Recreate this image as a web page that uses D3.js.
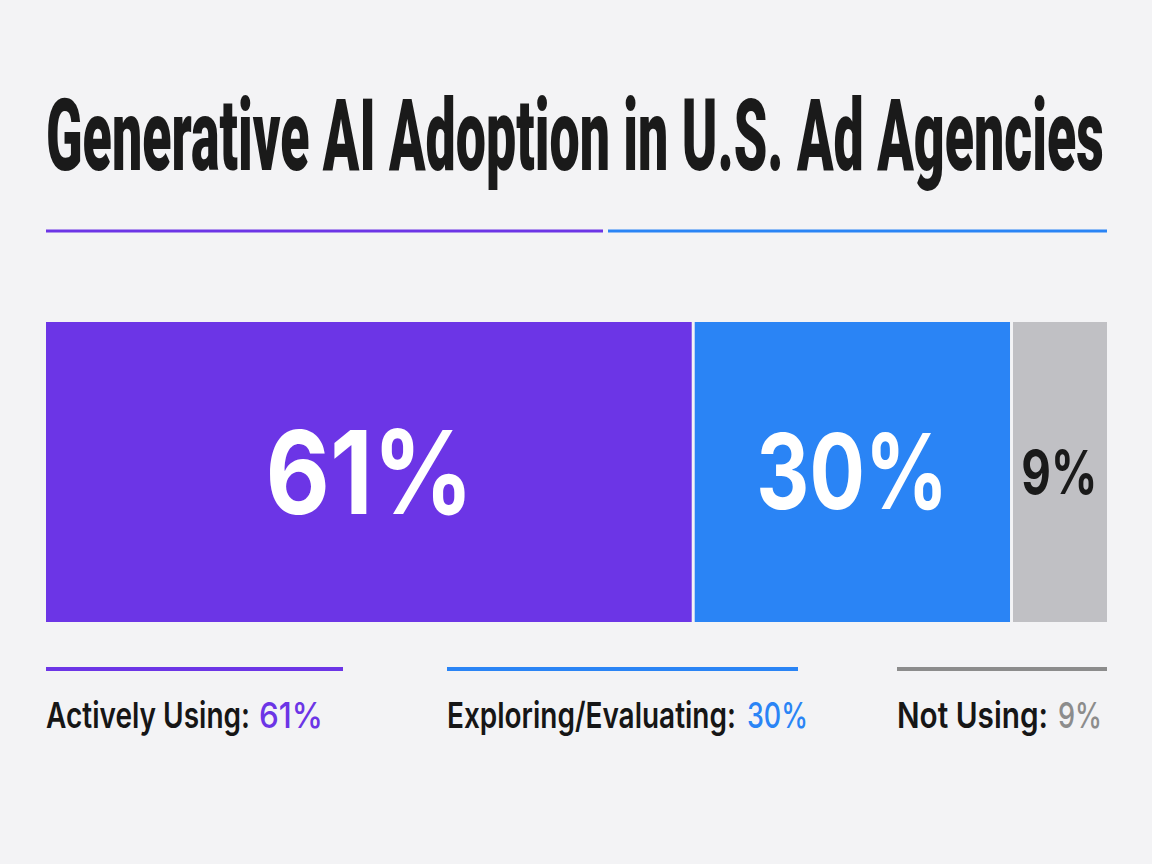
<!DOCTYPE html>
<html>
<head>
<meta charset="utf-8">
<script src="https://cdn.jsdelivr.net/npm/d3@7"></script>
<style>
  body { margin: 0; background: #f3f3f5; }
  svg { display: block; }
</style>
</head>
<body>
<svg id="chart" width="1152" height="864"></svg>
<script>
const categories = ["Actively Using", "Exploring/Evaluating", "Not Using"]
const values = [61, 30, 9]
const colors = ["#6c35e6", "#2a84f5", "#c0c0c4"]
const legendLineColors = ["#6c35e6", "#2a84f5", "#8c8c8c"]
const valueColors = ["#6c35e6", "#2a84f5", "#8c8c8c"]
const labelColors = ["#ffffff", "#ffffff", "#1a1a1a"]

const svg = d3.select('#chart')

svg.append('rect').attr('width', 1152).attr('height', 864).attr('fill', '#f3f3f5')

// squeeze a text horizontally so it spans width w, starting at x (or centred on x)
function fitText(t, x, y, w, centred) {
    let natural = t.node().getComputedTextLength()
    let k = Math.min(1, w / natural)
    let x0 = centred ? x - w / 2 : x
    t.attr('x', 0).attr('y', 0).attr('text-anchor', 'start')
        .attr('transform', 'translate(' + x0 + ',' + y + ') scale(' + k + ',1)')
}

// title
let title = svg.append('text')
    .style('font-family', 'Roboto, sans-serif')
    .style('font-weight', 900)
    .style('font-size', '100px')
    .attr('fill', '#1a1a1a')
    .text('Generative AI Adoption in U.S. Ad Agencies')
fitText(title, 46, 170, 1058)

// decorative rules under title
svg.append('line').attr('x1', 46).attr('x2', 603).attr('y1', 231).attr('y2', 231)
    .attr('stroke', colors[0]).attr('stroke-width', 3)
svg.append('line').attr('x1', 608).attr('x2', 1107).attr('y1', 231).attr('y2', 231)
    .attr('stroke', colors[1]).attr('stroke-width', 3)

// stacked bar
const total = d3.sum(values)
const x = d3.scaleLinear().domain([0, total]).range([46, 1107])
const gap = 3
let acc = 0
const segs = values.map((v, i) => {
    let s = { i: i, v: v, x0: acc, x1: acc + v }
    acc += v
    return s
})

const barTop = 322, barH = 300

svg.selectAll('rect.seg')
    .data(segs)
    .enter()
    .append('rect')
    .attr('class', 'seg')
    .attr('x', d => x(d.x0) + (d.i > 0 ? gap / 2 : 0))
    .attr('width', d => x(d.x1) - x(d.x0) - (d.i > 0 ? gap / 2 : 0) - (d.i < segs.length - 1 ? gap / 2 : 0))
    .attr('y', barTop)
    .attr('height', barH)
    .attr('fill', d => colors[d.i])

const labelSizes = [116, 104, 60]
const labelW = [208, 192, 76]
svg.selectAll('text.seg-label')
    .data(segs)
    .enter()
    .append('text')
    .attr('class', 'seg-label')
    .style('font-family', 'Inter, Roboto, sans-serif')
    .style('font-weight', 700)
    .style('font-size', d => labelSizes[d.i] + 'px')
    .attr('fill', d => labelColors[d.i])
    .text(d => d.v + '%')
    .each(function (d) {
        fitText(d3.select(this), (x(d.x0) + x(d.x1)) / 2, barTop + barH / 2 + labelSizes[d.i] * 0.36, labelW[d.i], true)
    })

// legend
const legendX = [46, 447, 897]
const legendLineEnd = [343, 798, 1107]
const legendNameW = [204, 289, 151]
const legendValX = [259, 747, 1058]
const legendValW = [64, 61, 44]

categories.forEach(function (c, i) {
    svg.append('line')
        .attr('x1', legendX[i]).attr('x2', legendLineEnd[i])
        .attr('y1', 669).attr('y2', 669)
        .attr('stroke', legendLineColors[i]).attr('stroke-width', 4)

    let name = svg.append('text')
        .style('font-family', 'Inter, Roboto, sans-serif')
        .style('font-weight', 600)
        .style('font-size', '36px')
        .attr('fill', '#161616')
        .text(c + ':')
    fitText(name, legendX[i], 728, legendNameW[i])

    let val = svg.append('text')
        .style('font-family', 'Inter, Roboto, sans-serif')
        .style('font-weight', 500)
        .style('font-size', '36px')
        .attr('fill', valueColors[i])
        .text(values[i] + '%')
    fitText(val, legendValX[i], 728, legendValW[i])
})
</script>
</body>
</html>
